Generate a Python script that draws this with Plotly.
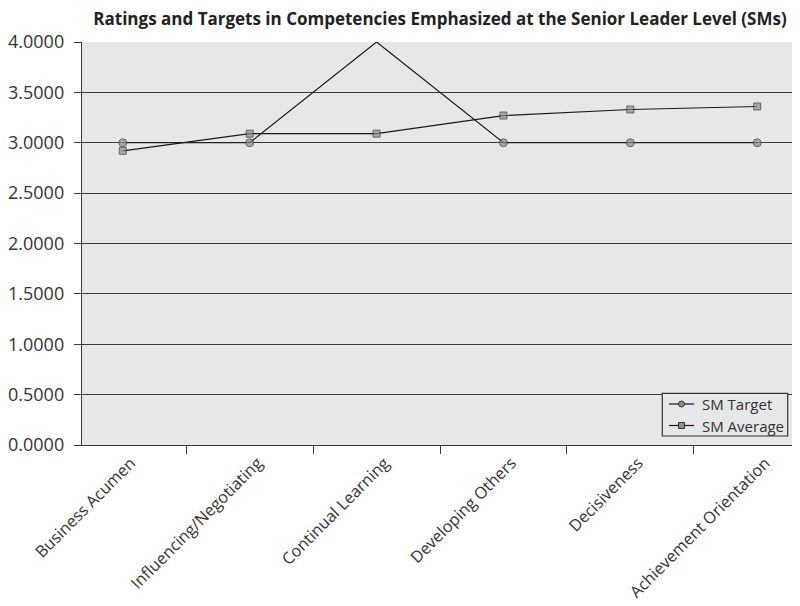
import plotly.graph_objects as go

categories = ["Business Acumen", "Influencing/Negotiating", "Continual Learning",
              "Developing Others", "Decisiveness", "Achievement Orientation"]
sm_target = [3.0, 3.0, 4.0, 3.0, 3.0, 3.0]
sm_average = [2.92, 3.09, 3.09, 3.27, 3.33, 3.36]
series_names = ["SM Target", "SM Average"]
y_ticks = [0, 0.5, 1.0, 1.5, 2.0, 2.5, 3.0, 3.5, 4.0]
Y_MAX = 4.0

FONT = "Open Sans"
LINE_C = "#1a1a1a"
MARK_FILL = "#8c8c8c"
MARK_EDGE = "#333333"
AXIS_C = "#3a3a3a"
BG = "#e6e7e9"

# figure geometry (page body adds an 8px offset)
W, H = 792, 598
ML, MR, MT, MB = 74, 2, 34, 161
PW, PH = W - ML - MR, H - MT - MB


def paper(xp, yp):
    """screen pixel -> paper coords (accounting for 8px body offset)"""
    return (xp - 8 - ML) / PW, (H - MB - (yp - 8)) / PH


def marker_sizes(vals, size):
    # points sitting on the top edge are clipped away in the original chart
    return [0 if v >= Y_MAX else size for v in vals]


fig = go.Figure()
fig.add_trace(go.Scatter(
    x=categories, y=sm_target, name=series_names[0], mode="lines+markers",
    line=dict(color=LINE_C, width=1.2),
    marker=dict(symbol="circle", size=marker_sizes(sm_target, 8), color=MARK_FILL,
                line=dict(color=MARK_EDGE, width=1)),
))
fig.add_trace(go.Scatter(
    x=categories, y=sm_average, name=series_names[1], mode="lines+markers",
    line=dict(color=LINE_C, width=1.2),
    marker=dict(symbol="square", size=marker_sizes(sm_average, 7), color=MARK_FILL,
                line=dict(color=MARK_EDGE, width=1)),
))

fig.update_layout(
    width=W, height=H,
    margin=dict(l=ML, r=MR, t=MT, b=MB),
    paper_bgcolor="white",
    plot_bgcolor=BG,
    font=dict(family=FONT, color="#333333", size=14),
    title=dict(text="<b>Ratings and Targets in Competencies Emphasized at the Senior Leader Level (SMs)</b>",
               xref="paper", x=0.5, xanchor="center", y=1 - 5 / H, yanchor="top",
               font=dict(family=FONT, size=17, color="#222222")),
    showlegend=False,
)
fig.update_yaxes(
    range=[0, Y_MAX], tickvals=y_ticks, ticktext=[f"{v:.4f}" for v in y_ticks],
    showgrid=True, gridcolor=AXIS_C, gridwidth=1.4,
    showline=True, linecolor=AXIS_C, linewidth=1.4, mirror=False,
    ticks="outside", ticklen=7, tickcolor=AXIS_C, tickwidth=1.4,
    tickfont=dict(family=FONT, size=18, color="#333333"),
    zeroline=False, automargin=False, ticklabelstandoff=6,
)
fig.update_xaxes(
    type="category", tickangle=-45, tickson="boundaries",
    ticks="outside", ticklen=8, tickcolor=AXIS_C, tickwidth=1.4,
    showline=True, linecolor=AXIS_C, linewidth=1.4, mirror=False,
    showgrid=False, automargin=False, ticklabelstandoff=1, ticklabelshift=8,
    tickfont=dict(family=FONT, size=16.3, color="#333333"),
)
fig.add_shape(type="line", xref="paper", yref="paper", x0=1, x1=1, y0=0, y1=1,
              line=dict(color=AXIS_C, width=1.4))

# ---- legend box drawn by hand (compact, as in the original) ----
bx0, by0 = paper(662.3, 436.0)
bx1, by1 = paper(787.7, 393.3)
fig.add_shape(type="rect", xref="paper", yref="paper", x0=bx0, x1=bx1, y0=by0, y1=by1,
              fillcolor=BG, line=dict(color=MARK_EDGE, width=1.2), layer="above")
row_y = [404.0, 425.5]
symbols = ["circle", "rect"]
for name, ry, sym in zip(series_names, row_y, symbols):
    lx0, ly = paper(669, ry)
    lx1, _ = paper(694, ry)
    mx, _ = paper(681.5, ry)
    tx, _ = paper(700, ry)
    fig.add_shape(type="line", xref="paper", yref="paper", x0=lx0, x1=lx1, y0=ly, y1=ly,
                  line=dict(color=LINE_C, width=1.2))
    fig.add_shape(type=sym, xref="paper", yref="paper",
                  xsizemode="pixel", ysizemode="pixel", xanchor=mx, yanchor=ly,
                  x0=-3, x1=3, y0=-3, y1=3,
                  fillcolor=MARK_FILL, line=dict(color=MARK_EDGE, width=1))
    fig.add_annotation(text=name, xref="paper", yref="paper", x=tx, y=ly,
                       xanchor="left", yanchor="middle", showarrow=False,
                       font=dict(family=FONT, size=15, color="#333333"))

fig.write_html("out.html")
